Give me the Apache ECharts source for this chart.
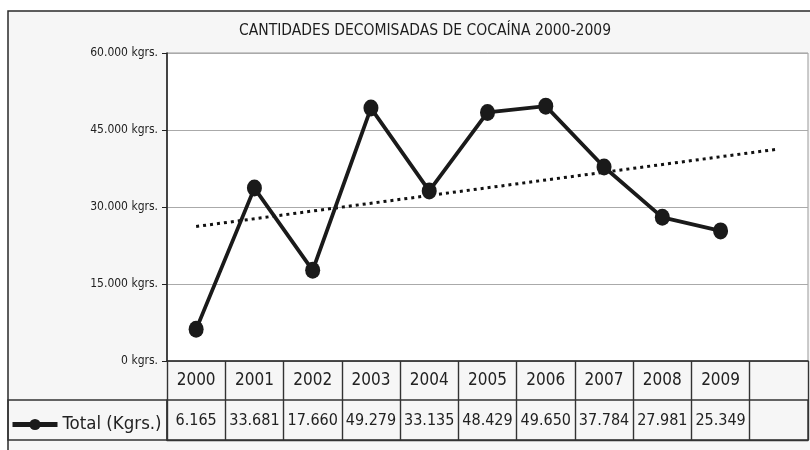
<!DOCTYPE html>
<html><head><meta charset="utf-8">
<script src="https://cdn.jsdelivr.net/npm/echarts@6/dist/echarts.min.js"></script>
<style>html,body{margin:0;padding:0;background:#fff}#c{width:810px;height:450px}</style>
</head><body><div id="c"></div>
<script>
const years = ['2000','2001','2002','2003','2004','2005','2006','2007','2008','2009',''];
const totals = [6165, 33681, 17660, 49279, 33135, 48429, 49650, 37784, 27981, 25349];
// linear trendline endpoints (2000 .. one period ahead)
const trendStart = 26200;
const trendEnd = 41300;
const seriesName = 'Total (Kgrs.)';
const titleText = 'CANTIDADES DECOMISADAS DE COCAÍNA 2000-2009';

const FONT = '"DejaVu Sans Condensed","Liberation Sans Narrow",sans-serif';
const fmt = n => String(n).replace(/\B(?=(\d{3})+(?!\d))/g, '.');
const trend = years.map((y, i) => i === 0 ? trendStart : (i === years.length - 1 ? trendEnd : null));

const chart = echarts.init(document.getElementById('c'));
chart.setOption({
  backgroundColor: '#fff',
  animation: false,
  textStyle: { fontFamily: FONT },
  graphic: [
    { type: 'rect', z: -100, shape: { x: 8, y: 11, width: 820, height: 460 },
      style: { fill: '#f6f6f6', stroke: '#2a2a2a', lineWidth: 1.5 } },
    { type: 'rect', z: 10, shape: { x: 8, y: 400, width: 159, height: 40 },
      style: { fill: 'none', stroke: '#333', lineWidth: 1.4 } }
  ],
  title: {
    text: titleText, left: 420, top: 18, textAlign: 'center',
    textStyle: { fontFamily: FONT, fontSize: 15.5, fontWeight: 'normal', color: '#1e1e1e' }
  },
  legend: {
    data: [seriesName], left: 5, top: 410, itemWidth: 45, itemHeight: 14, itemGap: 4,
    lineStyle: { width: 5 },
    textStyle: { fontFamily: FONT, fontSize: 18.5, color: '#222' }
  },
  grid: [
    { left: 167, right: 2, top: 53, height: 308, show: true, backgroundColor: '#fff', borderColor: '#999', borderWidth: 1 },
    { left: 167, right: 2, top: 400, height: 40, show: true, backgroundColor: 'transparent', borderColor: '#333', borderWidth: 1.4 }
  ],
  xAxis: [
    { type: 'category', gridIndex: 0, data: years, boundaryGap: true,
      axisLine: { lineStyle: { color: '#222', width: 1.6 } },
      axisTick: { show: true, interval: 0, length: 39, lineStyle: { color: '#333', width: 1.4 } },
      axisLabel: { interval: 0, margin: 11, fontFamily: FONT, fontSize: 17, color: '#222' } },
    { type: 'category', gridIndex: 1, data: years, boundaryGap: true, position: 'bottom',
      axisLine: { lineStyle: { color: '#333', width: 1.4 } },
      axisTick: { show: true, inside: true, interval: 0, length: 40, lineStyle: { color: '#333', width: 1.4 } },
      axisLabel: { inside: true, interval: 0, margin: 11, fontFamily: FONT, fontSize: 16, color: '#222',
        formatter: (v, i) => i < totals.length ? fmt(totals[i]) : '' } }
  ],
  yAxis: [
    { type: 'value', gridIndex: 0, min: 0, max: 60000, interval: 15000,
      axisLine: { show: true, lineStyle: { color: '#222', width: 1.6 } },
      axisTick: { show: true, length: 5, lineStyle: { color: '#222' } },
      splitLine: { lineStyle: { color: '#aaa', width: 1.2 } },
      axisLabel: { margin: 9, fontFamily: FONT, fontSize: 12, color: '#222', formatter: v => fmt(v) + ' kgrs.' } },
    { type: 'value', gridIndex: 1, show: false }
  ],
  series: [
    { name: seriesName, type: 'line', xAxisIndex: 0, yAxisIndex: 0, data: totals,
      symbol: 'circle', symbolSize: [15, 17], z: 5,
      lineStyle: { color: '#1a1a1a', width: 3.8 }, itemStyle: { color: '#1a1a1a' } },
    { name: 'trend', type: 'line', xAxisIndex: 0, yAxisIndex: 0, data: trend, connectNulls: true,
      symbol: 'none', z: 4, lineStyle: { color: '#111', width: 3, type: [3, 4] } }
  ]
});
</script></body></html>
